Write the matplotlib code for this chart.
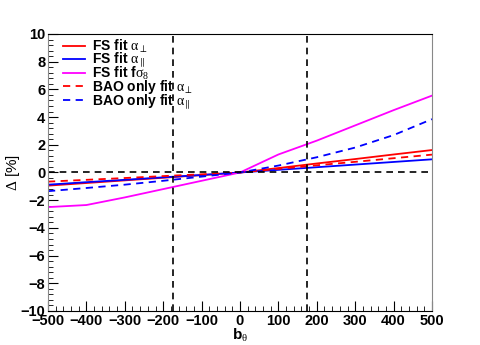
import numpy as np
import matplotlib
matplotlib.use("Agg")
import matplotlib.pyplot as plt
from matplotlib.ticker import MultipleLocator

plt.rcParams['font.family'] = ['Liberation Sans', 'DejaVu Sans']
plt.rcParams['mathtext.fontset'] = 'custom'
plt.rcParams['mathtext.rm'] = 'Liberation Serif'
plt.rcParams['mathtext.it'] = 'Liberation Serif'
plt.rcParams['mathtext.bf'] = 'Liberation Sans:bold'
plt.rcParams['mathtext.sf'] = 'Liberation Sans:bold'
plt.rcParams['mathtext.fallback'] = 'stix'

# data
b_theta = [-500, -400, -300, -200, -100, 0, 100, 200, 300, 400, 500]
fs_aperp = [-0.95, -0.76, -0.57, -0.38, -0.19, 0.0, 0.32, 0.65, 0.97, 1.30, 1.62]
fs_apar = [-0.88, -0.70, -0.53, -0.35, -0.18, 0.0, 0.19, 0.38, 0.57, 0.76, 0.95]
fs_fsig8 = [-2.5, -2.35, -1.8, -1.2, -0.6, 0.0, 1.3, 2.3, 3.4, 4.5, 5.55]
bao_aperp = [-0.66, -0.53, -0.40, -0.26, -0.13, 0.0, 0.26, 0.52, 0.77, 1.03, 1.29]
bao_apar = [-1.35, -1.12, -0.88, -0.60, -0.30, 0.0, 0.50, 1.10, 1.80, 2.70, 3.85]
vlines_x = [-175, 175]

fig = plt.figure(figsize=(4.8, 3.45), dpi=100)
ax = fig.add_axes([0.1, 0.0986, 0.8, 0.8029])

ax.plot(b_theta, fs_aperp, color='#ff0000', lw=1.3, label=r'FS fit $\alpha_{\perp}$')
ax.plot(b_theta, fs_apar, color='#0000ff', lw=1.3, label=r'FS fit $\alpha_{\parallel}$')
ax.plot(b_theta, fs_fsig8, color='#ff00ff', lw=1.3, label=r'FS fit f$\sigma_{8}$')
ax.plot(b_theta, bao_aperp, color='#ff0000', lw=1.3, ls=(0, (4, 3)), label=r'BAO only fit $\alpha_{\perp}$')
ax.plot(b_theta, bao_apar, color='#0000ff', lw=1.3, ls=(0, (4, 3)), label=r'BAO only fit $\alpha_{\parallel}$')

ax.axhline(0, color='black', lw=1.2, ls=(0, (4, 3)))
for xv in vlines_x:
    ax.axvline(xv, color='black', lw=1.2, ls=(0, (4, 3)))

ax.set_xlim(-500, 500)
ax.set_ylim(-10, 10)
ax.xaxis.set_major_locator(MultipleLocator(100))
ax.xaxis.set_minor_locator(MultipleLocator(20))
ax.yaxis.set_major_locator(MultipleLocator(2))
ax.yaxis.set_minor_locator(MultipleLocator(0.4))
ax.tick_params(which='both', direction='in', top=False, right=False)
ax.tick_params(which='major', length=7, labelsize=10.5, pad=2)
ax.tick_params(which='minor', length=3.5)
for lab in ax.get_xticklabels() + ax.get_yticklabels():
    lab.set_fontweight('bold')
for side in ['left', 'right']:
    ax.spines[side].set_color('#888888')

ax.set_xlabel(r'$\mathbf{b}_{\theta}$', fontsize=11)
ax.xaxis.set_label_coords(0.5, -0.056)
ax.set_ylabel(r'$\Delta$ [%]', fontsize=11)
ax.yaxis.set_label_coords(-0.068, 0.5)

leg = ax.legend(loc='upper left', bbox_to_anchor=(0.024, 1.006), frameon=False,
                prop={'weight': 'bold', 'size': 10}, handlelength=1.6,
                handletextpad=0.5, labelspacing=-0.3, borderaxespad=0)

fig.savefig('out.png', dpi=100)
